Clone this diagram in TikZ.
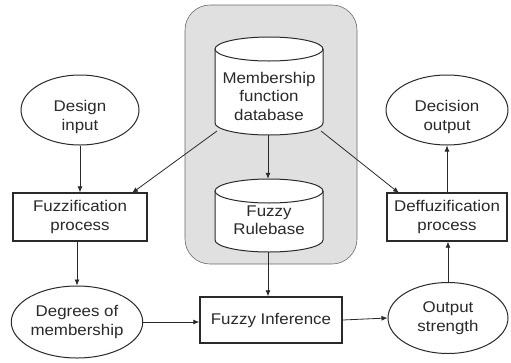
\documentclass[tikz,border=0pt]{standalone}
\usepackage{fontspec}
\setmainfont{Liberation Sans}[FakeStretch=1.09]
\usetikzlibrary{shapes.geometric,arrows.meta}
\definecolor{panelgray}{HTML}{E0E0E0}
\definecolor{ink}{HTML}{2A2A2A}
\begin{document}
\begin{tikzpicture}[x=1pt,y=-1pt,
  every node/.style={font=\fontsize{15.5}{18.5}\selectfont, text=ink, align=center, inner sep=0pt},
  oval/.style={ellipse, draw=ink, line width=1pt, fill=white},
  procbox/.style={rectangle, draw=ink, line width=1.4pt, fill=white},
  cyl/.style={draw=ink, line width=1pt, fill=white},
  conn/.style={draw=ink, line width=0.8pt, -{Latex[length=6pt,width=5pt]}}]
\useasboundingbox (0,0) rectangle (511,362);
% shaded panel
\node[draw=ink!70, fill=panelgray, line width=0.6pt, rounded corners=25pt, minimum width=172pt, minimum height=259pt] (panel) at (271,134.5) {};
% cylinder 1: membership function database
\path[cyl] (215,49) -- (215,123) arc (180:0:54 and 12) -- (323,49);
\path[cyl] (269,49) ellipse (54 and 12);
\node[minimum width=108pt, minimum height=98pt] (mf) at (269,86) {};
\node (mftext) at (269,96) {Membership\\function\\database};
% cylinder 2: fuzzy rulebase
\path[cyl] (215,191) -- (215,240) arc (180:0:54 and 12) -- (323,191);
\path[cyl] (269,191) ellipse (54 and 12);
\node[minimum width=108pt, minimum height=73pt] (rb) at (269,215.5) {};
\node (rbtext) at (269,220) {Fuzzy\\Rulebase};
% ellipses
\node[oval, minimum width=118pt, minimum height=70pt] (di) at (80,110) {};
\node at (80,117) {Design\\input};
\node[oval, minimum width=122pt, minimum height=70pt] (dec) at (447,110) {};
\node at (447,117) {Decision\\output};
\node[oval, minimum width=120pt, minimum height=72pt] (dg) at (77,322) {Degrees of\\membership};
\node[oval, minimum width=120pt, minimum height=71pt] (os) at (448,318) {Output\\strength};
% boxes
\node[procbox, minimum width=134pt, minimum height=48pt] (fz) at (80,217) {Fuzzification\\process};
\node[procbox, minimum width=120pt, minimum height=48pt] (dfz) at (447,217) {Deffuzification\\process};
\node[procbox, minimum width=142pt, minimum height=46pt] (fi) at (271,320) {Fuzzy Inference};
% connector end points on the cylinder rims
\coordinate (mfL) at (217,131);
\coordinate (mfR) at (321,131);
\coordinate (fzTR) at (132,193);
\coordinate (dfzTL) at (399,193);
% connectors
\draw[conn] (di.south) -- (fz.north);
\draw[conn] (mfL) -- (fzTR);
\draw[conn] (mfR) -- (dfzTL);
\draw[conn] (mf.south -| 268,0) -- (rb.north -| 268,0);
\draw[conn] (rb.south -| 268,0) -- (fi.north -| 268,0);
\draw[conn] (fz.south -| dg.north) -- (dg.north);
\draw[conn] (dg.east) -- (fi.west |- dg.east);
\draw[conn] (fi.east) -- (os.west);
\draw[conn] (os.north) -- (dfz.south -| os.north);
\draw[conn] (dfz.north) -- (dec.south);
\end{tikzpicture}
\end{document}
